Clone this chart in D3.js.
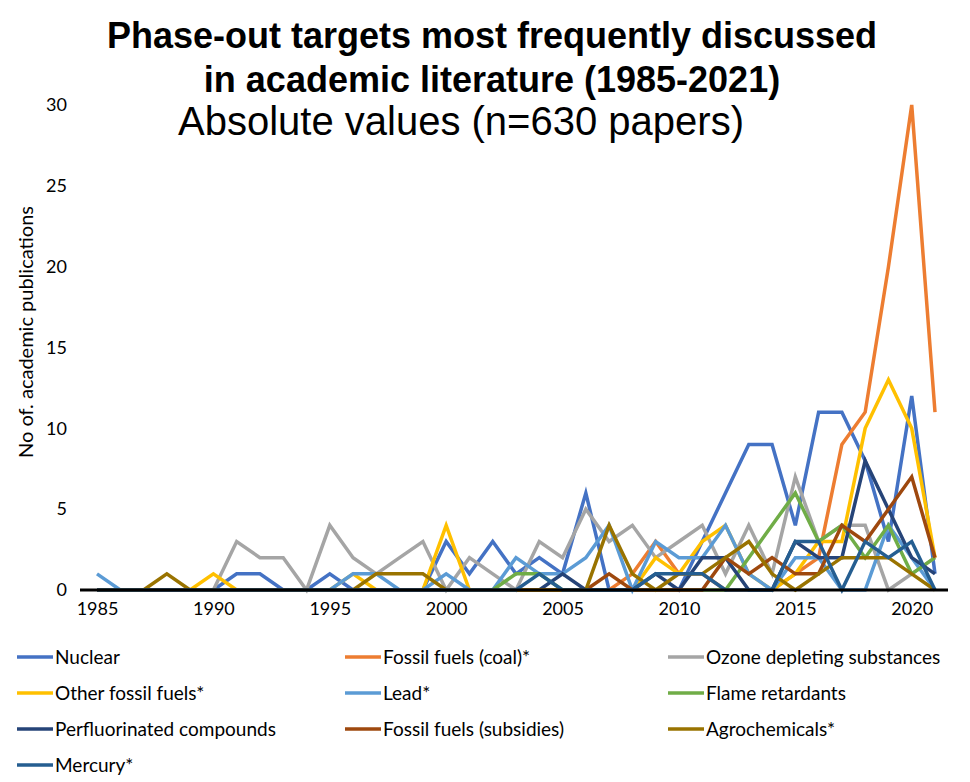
<!DOCTYPE html>
<html>
<head>
<meta charset="utf-8">
<script src="https://d3js.org/d3.v7.min.js"></script>
<style>
  body { margin: 0; background: #fff; }
  text { font-family: Lato, "Open Sans", sans-serif; fill: #000; }
  .title { font-family: "Liberation Sans", Arial, sans-serif; }
</style>
</head>
<body>
<div id="chart"></div>
<script>
var years = d3.range(1985, 2022);

// 1985 ... 2021
var nuclear    = [0,0,0,0,0,0,1,1,0,0,1,0,0,0,0,3,1,3,1,2,1,6,0,0,0,0,3,6,9,9,4,11,11,8,3,12,1];
var coal       = [0,0,0,0,0,0,0,0,0,0,0,0,0,0,0,0,0,0,0,0,0,0,0,1,3,1,1,0,0,0,1,2,9,11,20,30,11];
var ozone      = [0,0,0,0,0,0,3,2,2,0,4,2,1,2,3,0,2,1,0,3,2,5,3,4,2,3,4,1,4,1,7,3,4,4,0,1,2];
var otherFossil= [0,0,0,0,0,1,0,0,0,0,0,1,0,0,0,4,0,0,0,0,0,0,0,0,2,1,3,4,1,0,1,3,3,10,13,10,2];
var lead       = [1,0,0,0,0,0,0,0,0,0,0,1,1,0,0,1,0,0,2,1,1,2,4,0,3,2,2,4,1,0,2,2,0,0,4,2,0];
var flame      = [0,0,0,0,0,0,0,0,0,0,0,0,0,0,0,0,0,0,1,1,0,0,0,0,0,0,0,0,2,4,6,3,4,2,4,1,2];
var pfc        = [0,0,0,0,0,0,0,0,0,0,0,0,0,0,0,0,0,0,0,0,1,0,0,0,1,0,2,2,0,0,3,2,2,8,5,2,1];
var subsidies  = [0,0,0,0,0,0,0,0,0,0,0,0,0,0,0,0,0,0,0,0,0,0,1,0,0,0,0,2,1,2,1,1,4,3,5,7,2];
var agro       = [0,0,0,1,0,0,0,0,0,0,0,0,1,1,1,0,0,0,0,0,0,0,4,1,0,1,1,2,3,1,0,1,2,2,2,1,0];
var mercury    = [0,0,0,0,0,0,0,0,0,0,0,0,0,0,0,0,0,0,0,1,0,0,0,0,1,1,1,0,0,0,3,3,0,3,2,3,0];

var seriesNames = ["Nuclear", "Fossil fuels (coal)*", "Ozone depleting substances",
  "Other fossil fuels*", "Lead*", "Flame retardants",
  "Perfluorinated compounds", "Fossil fuels (subsidies)", "Agrochemicals*", "Mercury*"];
var seriesValues = [nuclear, coal, ozone, otherFossil, lead, flame, pfc, subsidies, agro, mercury];
var colors = ["#4472C4", "#ED7D31", "#A5A5A5", "#FFC000", "#5B9BD5", "#70AD47",
  "#264478", "#9E480E", "#997300", "#255E91"];

var yTicks = [0, 5, 10, 15, 20, 25, 30];
var xTicks = [1985, 1990, 1995, 2000, 2005, 2010, 2015, 2020];

var width = 970, height = 782;
var svg = d3.select("#chart").append("svg")
    .attr("width", width)
    .attr("height", height);

var x = d3.scaleLinear().domain([1985, 2021]).range([97, 935]);
var y = d3.scaleLinear().domain([0, 30]).range([590, 105]);

// title
svg.append("text").attr("class", "title").attr("x", 492).attr("y", 48).attr("text-anchor", "middle")
    .style("font-size", "36px").style("font-weight", "bold")
    .text("Phase-out targets most frequently discussed");
svg.append("text").attr("class", "title").attr("x", 492).attr("y", 92).attr("text-anchor", "middle")
    .style("font-size", "36px").style("font-weight", "bold")
    .text("in academic literature (1985-2021)");
svg.append("text").attr("class", "title").attr("x", 461).attr("y", 135).attr("text-anchor", "middle")
    .style("font-size", "40px")
    .text("Absolute values (n=630 papers)");

// y axis label
svg.append("text")
    .attr("transform", "translate(33,332) rotate(-90)")
    .attr("text-anchor", "middle")
    .style("font-size", "20px")
    .text("No of. academic publications");

// y axis (labels only)
var yAxis = svg.append("g")
    .attr("transform", "translate(67,0)")
    .call(d3.axisLeft(y).tickValues(yTicks).tickSize(0).tickPadding(0));
yAxis.select(".domain").remove();
yAxis.selectAll("text").style("font-size", "18px").style("font-family", "Lato, sans-serif");

// lines
var line = d3.line()
    .x(function(d, i) { return x(years[i]); })
    .y(function(d) { return y(d); });

svg.selectAll(".series")
    .data(seriesValues)
    .enter().append("path")
    .attr("class", "series")
    .attr("fill", "none")
    .attr("stroke", function(d, i) { return colors[i]; })
    .attr("stroke-width", 3.5)
    .attr("stroke-linejoin", "miter")
    .attr("d", line);

// x axis
var xAxis = svg.append("g")
    .attr("transform", "translate(0," + y(0) + ")")
    .call(d3.axisBottom(x).tickValues(xTicks).tickFormat(d3.format("d")).tickSize(0).tickPadding(12));
xAxis.select(".domain").remove();
xAxis.selectAll("text").style("font-size", "18px").style("font-family", "Lato, sans-serif");
svg.append("line")
    .attr("x1", 80).attr("x2", 948)
    .attr("y1", y(0)).attr("y2", y(0))
    .attr("stroke", "#000").attr("stroke-width", 3);

// legend
var colX = [17, 345, 668];
var rowY = [657, 693, 729, 765];
var legend = svg.selectAll(".legend")
    .data(seriesNames)
    .enter().append("g")
    .attr("class", "legend")
    .attr("transform", function(d, i) {
        return "translate(" + colX[i % 3] + "," + rowY[Math.floor(i / 3)] + ")";
    });
legend.append("line")
    .attr("x1", 0).attr("x2", 36).attr("y1", 0).attr("y2", 0)
    .attr("stroke", function(d, i) { return colors[i]; })
    .attr("stroke-width", 3.5);
legend.append("text")
    .attr("x", 38).attr("y", 7)
    .style("font-size", "19px")
    .text(function(d) { return d; });
</script>
</body>
</html>
